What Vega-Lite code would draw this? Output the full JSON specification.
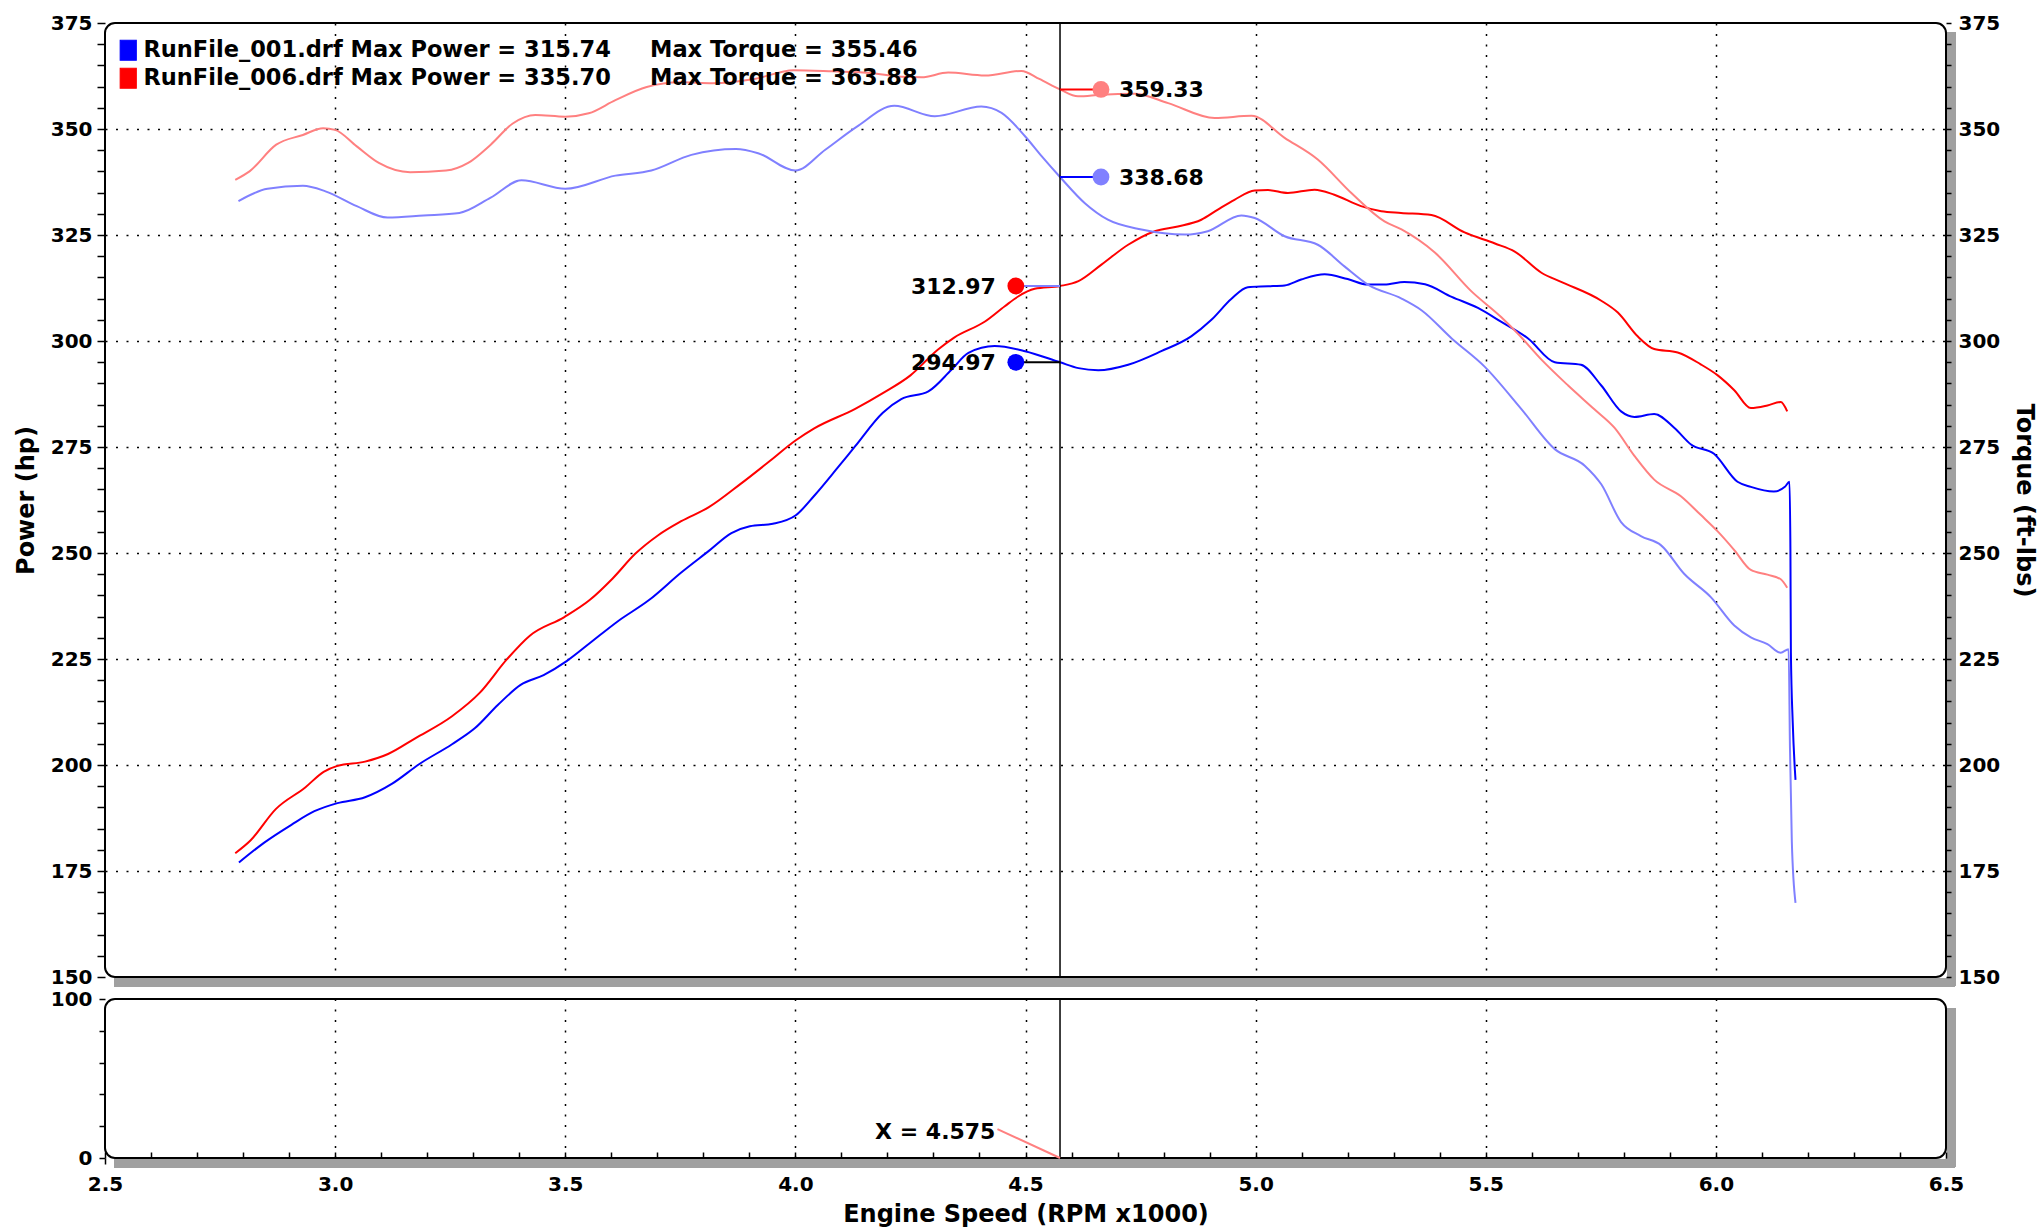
{
  "$schema": "https://vega.github.io/schema/vega-lite/v6.json",
  "background": "white",
  "padding": {"left": 13, "top": 12, "right": 2, "bottom": 2},
  "bounds": "flush",
  "spacing": 22,
  "config": {
    "font": "DejaVu Sans",
    "view": {"stroke": "black", "strokeWidth": 2, "cornerRadius": 10, "fill": "white"},
    "axis": {
      "labelFont": "DejaVu Sans", "labelFontWeight": "bold", "labelFontSize": 20, "labelColor": "black",
      "titleFont": "DejaVu Sans", "titleFontWeight": "bold", "titleFontSize": 24, "titleColor": "black",
      "tickColor": "black", "tickWidth": 1.5, "gridColor": "black", "gridDash": [2, 8.5], "gridWidth": 1.5,
      "labelOverlap": false, "labelFlush": false
    },
    "text": {"font": "DejaVu Sans"}
  },
  "datasets": {
    "curves": [
      {"series":"P006","rpm":2.783,"value":179.2},{"series":"P006","rpm":2.816,"value":182.2},{"series":"P006","rpm":2.871,"value":189.6},{"series":"P006","rpm":2.935,"value":194.7},{"series":"P006","rpm":2.975,"value":198.4},{"series":"P006","rpm":3.005,"value":199.8},{"series":"P006","rpm":3.065,"value":200.8},{"series":"P006","rpm":3.115,"value":202.6},{"series":"P006","rpm":3.174,"value":206.3},{"series":"P006","rpm":3.254,"value":211.5},{"series":"P006","rpm":3.314,"value":217.0},{"series":"P006","rpm":3.373,"value":224.9},{"series":"P006","rpm":3.423,"value":230.5},{"series":"P006","rpm":3.498,"value":234.9},{"series":"P006","rpm":3.553,"value":238.9},{"series":"P006","rpm":3.603,"value":244.0},{"series":"P006","rpm":3.652,"value":249.8},{"series":"P006","rpm":3.702,"value":254.2},{"series":"P006","rpm":3.752,"value":257.5},{"series":"P006","rpm":3.812,"value":260.8},{"series":"P006","rpm":3.881,"value":266.3},{"series":"P006","rpm":3.941,"value":271.4},{"series":"P006","rpm":4.001,"value":276.6},{"series":"P006","rpm":4.041,"value":279.4},{"series":"P006","rpm":4.130,"value":284.0},{"series":"P006","rpm":4.190,"value":287.7},{"series":"P006","rpm":4.250,"value":291.9},{"series":"P006","rpm":4.310,"value":298.0},{"series":"P006","rpm":4.345,"value":300.8},{"series":"P006","rpm":4.412,"value":304.6},{"series":"P006","rpm":4.455,"value":308.2},{"series":"P006","rpm":4.484,"value":310.5},{"series":"P006","rpm":4.520,"value":312.3},{"series":"P006","rpm":4.575,"value":312.97},{"series":"P006","rpm":4.615,"value":314.1},{"series":"P006","rpm":4.665,"value":318.0},{"series":"P006","rpm":4.723,"value":322.7},{"series":"P006","rpm":4.781,"value":325.9},{"series":"P006","rpm":4.831,"value":327.0},{"series":"P006","rpm":4.882,"value":328.6},{"series":"P006","rpm":4.918,"value":331.0},{"series":"P006","rpm":4.954,"value":333.3},{"series":"P006","rpm":4.998,"value":335.5},{"series":"P006","rpm":5.027,"value":335.6},{"series":"P006","rpm":5.070,"value":334.9},{"series":"P006","rpm":5.128,"value":335.70},{"series":"P006","rpm":5.171,"value":334.5},{"series":"P006","rpm":5.229,"value":331.8},{"series":"P006","rpm":5.273,"value":330.6},{"series":"P006","rpm":5.316,"value":330.2},{"series":"P006","rpm":5.382,"value":329.7},{"series":"P006","rpm":5.454,"value":325.6},{"series":"P006","rpm":5.520,"value":323.0},{"series":"P006","rpm":5.563,"value":321.1},{"series":"P006","rpm":5.621,"value":316.1},{"series":"P006","rpm":5.665,"value":313.9},{"series":"P006","rpm":5.751,"value":309.5},{"series":"P006","rpm":5.787,"value":306.7},{"series":"P006","rpm":5.830,"value":301.1},{"series":"P006","rpm":5.866,"value":298.1},{"series":"P006","rpm":5.917,"value":297.3},{"series":"P006","rpm":5.967,"value":294.5},{"series":"P006","rpm":6.004,"value":291.9},{"series":"P006","rpm":6.040,"value":288.4},{"series":"P006","rpm":6.076,"value":284.2},{"series":"P006","rpm":6.112,"value":284.8},{"series":"P006","rpm":6.141,"value":285.6},{"series":"P006","rpm":6.155,"value":283.4},
      {"series":"P001","rpm":2.791,"value":177.0},{"series":"P001","rpm":2.846,"value":181.7},{"series":"P001","rpm":2.905,"value":185.9},{"series":"P001","rpm":2.955,"value":189.1},{"series":"P001","rpm":3.005,"value":191.0},{"series":"P001","rpm":3.065,"value":192.4},{"series":"P001","rpm":3.124,"value":195.6},{"series":"P001","rpm":3.184,"value":200.3},{"series":"P001","rpm":3.254,"value":204.9},{"series":"P001","rpm":3.304,"value":208.7},{"series":"P001","rpm":3.354,"value":214.2},{"series":"P001","rpm":3.403,"value":218.9},{"series":"P001","rpm":3.453,"value":221.2},{"series":"P001","rpm":3.503,"value":224.5},{"series":"P001","rpm":3.553,"value":228.7},{"series":"P001","rpm":3.613,"value":233.8},{"series":"P001","rpm":3.682,"value":238.9},{"series":"P001","rpm":3.752,"value":245.4},{"series":"P001","rpm":3.812,"value":250.5},{"series":"P001","rpm":3.861,"value":254.7},{"series":"P001","rpm":3.901,"value":256.3},{"series":"P001","rpm":3.951,"value":256.9},{"series":"P001","rpm":4.001,"value":258.9},{"series":"P001","rpm":4.041,"value":263.5},{"series":"P001","rpm":4.091,"value":270.0},{"series":"P001","rpm":4.130,"value":275.2},{"series":"P001","rpm":4.190,"value":283.1},{"series":"P001","rpm":4.230,"value":286.3},{"series":"P001","rpm":4.289,"value":288.1},{"series":"P001","rpm":4.339,"value":293.2},{"series":"P001","rpm":4.376,"value":297.2},{"series":"P001","rpm":4.433,"value":298.8},{"series":"P001","rpm":4.499,"value":297.6},{"series":"P001","rpm":4.575,"value":294.97},{"series":"P001","rpm":4.615,"value":293.6},{"series":"P001","rpm":4.658,"value":293.1},{"series":"P001","rpm":4.723,"value":294.4},{"series":"P001","rpm":4.795,"value":297.6},{"series":"P001","rpm":4.860,"value":301.1},{"series":"P001","rpm":4.904,"value":305.0},{"series":"P001","rpm":4.947,"value":309.9},{"series":"P001","rpm":4.983,"value":312.7},{"series":"P001","rpm":5.027,"value":312.9},{"series":"P001","rpm":5.063,"value":313.1},{"series":"P001","rpm":5.099,"value":314.5},{"series":"P001","rpm":5.150,"value":315.74},{"series":"P001","rpm":5.200,"value":314.6},{"series":"P001","rpm":5.244,"value":313.3},{"series":"P001","rpm":5.280,"value":313.3},{"series":"P001","rpm":5.323,"value":313.9},{"series":"P001","rpm":5.368,"value":313.4},{"series":"P001","rpm":5.426,"value":310.4},{"series":"P001","rpm":5.483,"value":307.8},{"series":"P001","rpm":5.534,"value":304.5},{"series":"P001","rpm":5.592,"value":300.6},{"series":"P001","rpm":5.650,"value":295.0},{"series":"P001","rpm":5.707,"value":294.4},{"series":"P001","rpm":5.751,"value":289.5},{"series":"P001","rpm":5.794,"value":283.4},{"series":"P001","rpm":5.823,"value":282.1},{"series":"P001","rpm":5.866,"value":282.8},{"series":"P001","rpm":5.910,"value":279.5},{"series":"P001","rpm":5.946,"value":275.6},{"series":"P001","rpm":5.996,"value":273.4},{"series":"P001","rpm":6.047,"value":266.8},{"series":"P001","rpm":6.076,"value":265.6},{"series":"P001","rpm":6.126,"value":264.5},{"series":"P001","rpm":6.150,"value":265.6},{"series":"P001","rpm":6.160,"value":266.8},{"series":"P001","rpm":6.162,"value":250.0},{"series":"P001","rpm":6.163,"value":226.5},{"series":"P001","rpm":6.167,"value":210.0},{"series":"P001","rpm":6.173,"value":196.5},
      {"series":"T006","rpm":2.783,"value":338.0},{"series":"T006","rpm":2.814,"value":340.0},{"series":"T006","rpm":2.872,"value":346.3},{"series":"T006","rpm":2.930,"value":348.6},{"series":"T006","rpm":2.974,"value":350.2},{"series":"T006","rpm":3.000,"value":349.8},{"series":"T006","rpm":3.047,"value":345.9},{"series":"T006","rpm":3.095,"value":342.0},{"series":"T006","rpm":3.163,"value":339.8},{"series":"T006","rpm":3.241,"value":340.2},{"series":"T006","rpm":3.289,"value":342.0},{"series":"T006","rpm":3.338,"value":346.3},{"series":"T006","rpm":3.386,"value":351.3},{"series":"T006","rpm":3.435,"value":353.3},{"series":"T006","rpm":3.500,"value":352.9},{"series":"T006","rpm":3.551,"value":353.7},{"series":"T006","rpm":3.609,"value":356.8},{"series":"T006","rpm":3.677,"value":359.9},{"series":"T006","rpm":3.750,"value":361.0},{"series":"T006","rpm":3.820,"value":360.8},{"series":"T006","rpm":3.911,"value":361.8},{"series":"T006","rpm":3.996,"value":363.88},{"series":"T006","rpm":4.081,"value":363.6},{"series":"T006","rpm":4.165,"value":363.2},{"series":"T006","rpm":4.230,"value":362.3},{"series":"T006","rpm":4.274,"value":362.2},{"series":"T006","rpm":4.332,"value":363.3},{"series":"T006","rpm":4.412,"value":362.6},{"series":"T006","rpm":4.491,"value":363.7},{"series":"T006","rpm":4.530,"value":361.8},{"series":"T006","rpm":4.575,"value":359.33},{"series":"T006","rpm":4.614,"value":357.7},{"series":"T006","rpm":4.665,"value":358.1},{"series":"T006","rpm":4.737,"value":358.3},{"series":"T006","rpm":4.810,"value":356.1},{"series":"T006","rpm":4.911,"value":352.6},{"series":"T006","rpm":4.991,"value":353.1},{"series":"T006","rpm":5.063,"value":347.9},{"series":"T006","rpm":5.135,"value":342.8},{"series":"T006","rpm":5.208,"value":334.9},{"series":"T006","rpm":5.280,"value":328.2},{"series":"T006","rpm":5.317,"value":326.3},{"series":"T006","rpm":5.390,"value":320.8},{"series":"T006","rpm":5.469,"value":311.7},{"series":"T006","rpm":5.534,"value":305.6},{"series":"T006","rpm":5.570,"value":301.7},{"series":"T006","rpm":5.621,"value":295.6},{"series":"T006","rpm":5.679,"value":289.5},{"series":"T006","rpm":5.736,"value":283.9},{"series":"T006","rpm":5.780,"value":279.5},{"series":"T006","rpm":5.823,"value":272.9},{"series":"T006","rpm":5.866,"value":267.3},{"series":"T006","rpm":5.924,"value":263.4},{"series":"T006","rpm":5.967,"value":259.0},{"series":"T006","rpm":6.004,"value":255.1},{"series":"T006","rpm":6.040,"value":250.7},{"series":"T006","rpm":6.076,"value":246.0},{"series":"T006","rpm":6.112,"value":244.9},{"series":"T006","rpm":6.141,"value":243.8},{"series":"T006","rpm":6.155,"value":241.8},
      {"series":"T001","rpm":2.790,"value":333.0},{"series":"T001","rpm":2.853,"value":335.9},{"series":"T001","rpm":2.930,"value":336.6},{"series":"T001","rpm":2.979,"value":335.3},{"series":"T001","rpm":3.047,"value":331.8},{"series":"T001","rpm":3.114,"value":329.1},{"series":"T001","rpm":3.192,"value":329.6},{"series":"T001","rpm":3.270,"value":330.2},{"series":"T001","rpm":3.338,"value":333.8},{"series":"T001","rpm":3.405,"value":337.9},{"series":"T001","rpm":3.500,"value":335.9},{"series":"T001","rpm":3.609,"value":339.0},{"series":"T001","rpm":3.687,"value":340.2},{"series":"T001","rpm":3.774,"value":343.9},{"series":"T001","rpm":3.871,"value":345.3},{"series":"T001","rpm":3.919,"value":344.3},{"series":"T001","rpm":4.000,"value":340.2},{"series":"T001","rpm":4.065,"value":345.1},{"series":"T001","rpm":4.133,"value":350.5},{"series":"T001","rpm":4.215,"value":355.46},{"series":"T001","rpm":4.303,"value":353.0},{"series":"T001","rpm":4.404,"value":355.3},{"series":"T001","rpm":4.448,"value":353.8},{"series":"T001","rpm":4.499,"value":348.3},{"series":"T001","rpm":4.535,"value":343.6},{"series":"T001","rpm":4.575,"value":338.68},{"series":"T001","rpm":4.629,"value":332.5},{"series":"T001","rpm":4.679,"value":328.6},{"series":"T001","rpm":4.752,"value":326.3},{"series":"T001","rpm":4.846,"value":325.1},{"series":"T001","rpm":4.896,"value":325.9},{"series":"T001","rpm":4.969,"value":329.6},{"series":"T001","rpm":4.998,"value":329.0},{"series":"T001","rpm":5.063,"value":324.7},{"series":"T001","rpm":5.135,"value":322.7},{"series":"T001","rpm":5.193,"value":317.6},{"series":"T001","rpm":5.244,"value":313.3},{"series":"T001","rpm":5.317,"value":310.0},{"series":"T001","rpm":5.361,"value":307.2},{"series":"T001","rpm":5.426,"value":300.6},{"series":"T001","rpm":5.498,"value":293.9},{"series":"T001","rpm":5.577,"value":284.0},{"series":"T001","rpm":5.650,"value":274.5},{"series":"T001","rpm":5.715,"value":270.6},{"series":"T001","rpm":5.751,"value":266.2},{"series":"T001","rpm":5.794,"value":257.3},{"series":"T001","rpm":5.837,"value":254.0},{"series":"T001","rpm":5.881,"value":251.8},{"series":"T001","rpm":5.931,"value":245.1},{"series":"T001","rpm":5.989,"value":239.6},{"series":"T001","rpm":6.040,"value":232.9},{"series":"T001","rpm":6.076,"value":230.1},{"series":"T001","rpm":6.112,"value":228.5},{"series":"T001","rpm":6.141,"value":226.5},{"series":"T001","rpm":6.158,"value":227.3},{"series":"T001","rpm":6.161,"value":204.0},{"series":"T001","rpm":6.165,"value":182.0},{"series":"T001","rpm":6.173,"value":167.5}
    ],
    "readouts": [
      {"series":"T006","rpm":4.664,"cursor":4.575,"value":359.33,"label":"359.33"},
      {"series":"T001","rpm":4.664,"cursor":4.575,"value":338.68,"label":"338.68"},
      {"series":"P006","rpm":4.479,"cursor":4.575,"value":312.97,"label":"312.97"},
      {"series":"P001","rpm":4.479,"cursor":4.575,"value":294.97,"label":"294.97"}
    ],
    "cursor": [{"rpm": 4.575}],
    "marker": [{"rpm": 4.439, "pct": 18.2, "rpm2": 4.575, "pct2": 0, "label": "X = 4.575"}]
  },
  "vconcat": [
    {
      "width": 1841,
      "height": 954,
      "layer": [
        {
          "data": {"name": "curves"},
          "transform": [{"filter": "datum.series === 'P001' || datum.series === 'P006'"}],
          "mark": {"type": "line", "interpolate": "monotone", "strokeWidth": 2},
          "encoding": {
            "x": {"field": "rpm", "type": "quantitative",
              "scale": {"domain": [2.5, 6.5], "nice": false, "zero": false},
              "axis": {"values": [2.5,2.6,2.7,2.8,2.9,3.0,3.1,3.2,3.3,3.4,3.5,3.6,3.7,3.8,3.9,4.0,4.1,4.2,4.3,4.4,4.5,4.6,4.7,4.8,4.9,5.0,5.1,5.2,5.3,5.4,5.5,5.6,5.7,5.8,5.9,6.0,6.1,6.2,6.3,6.4,6.5],
                "grid": true,
                "gridOpacity": {"condition": {"test": "abs(datum.value*2 - round(datum.value*2)) < 0.01 && datum.value > 2.6 && datum.value < 6.4", "value": 1}, "value": 0},
                "ticks": false, "labels": false, "domain": false, "title": null, "zindex": 0}},
            "y": {"field": "value", "type": "quantitative",
              "scale": {"domain": [150, 375], "nice": false, "zero": false},
              "axis": {"orient": "left",
                "values": [150,155,160,165,170,175,180,185,190,195,200,205,210,215,220,225,230,235,240,245,250,255,260,265,270,275,280,285,290,295,300,305,310,315,320,325,330,335,340,345,350,355,360,365,370,375],
                "labelExpr": "datum.value % 25 === 0 ? datum.label : ''",
                "grid": true,
                "gridOpacity": {"condition": {"test": "datum.value % 25 === 0 && datum.value > 150 && datum.value < 375", "value": 1}, "value": 0},
                "tickSize": 8, "labelPadding": 5, "domain": false,
                "title": "Power (hp)", "titlePadding": 12, "zindex": 0}},
            "color": {"field": "series", "type": "nominal",
              "scale": {"domain": ["P001", "P006", "T001", "T006"], "range": ["#0000ff", "#ff0000", "#8080ff", "#ff8080"]},
              "legend": {
                "title": null,
                "orient": "none",
                "legendX": 12,
                "legendY": 16,
                "padding": 0,
                "values": ["P001", "P006"],
                "labelExpr": "datum.value === 'P001' ? 'RunFile_001.drf Max Power = 315.74\u00a0\u00a0\u00a0\u00a0\u00a0Max Torque = 355.46' : 'RunFile_006.drf Max Power = 335.70\u00a0\u00a0\u00a0\u00a0\u00a0Max Torque = 363.88'",
                "labelFont": "DejaVu Sans", "labelFontWeight": "bold", "labelFontSize": 22.5, "labelColor": "black",
                "labelLimit": 1500, "labelOffset": 4, "rowPadding": 2,
                "symbolType": "M-0.8,-1H0.8V1H-0.8Z", "symbolSize": 400,
                "symbolStrokeWidth": 1.2, "symbolOpacity": 1,
                "encode": {"symbols": {"update": {
                  "shape": {"value": "M-0.8,-1H0.8V1H-0.8Z"},
                  "size": {"value": 400},
                  "strokeWidth": {"value": 1.2},
                  "stroke": {"value": "black"}
                }}}
              }}
          }
        },
        {
          "data": {"name": "curves"},
          "transform": [{"filter": "datum.series === 'T001' || datum.series === 'T006'"}],
          "mark": {"type": "line", "interpolate": "monotone", "strokeWidth": 2},
          "encoding": {
            "x": {"field": "rpm", "type": "quantitative",
              "axis": {"orient": "bottom", "translate": 9, "offset": -3.5, "domainColor": "#a0a0a0", "domainWidth": 9, "ticks": false, "labels": false, "grid": false, "title": null, "zindex": 0}},
            "y": {"field": "value", "type": "quantitative",
              "axis": {"orient": "right",
                "values": [150,155,160,165,170,175,180,185,190,195,200,205,210,215,220,225,230,235,240,245,250,255,260,265,270,275,280,285,290,295,300,305,310,315,320,325,330,335,340,345,350,355,360,365,370,375],
                "labelExpr": "datum.value % 25 === 0 ? datum.label : ''",
                "grid": false, "tickSize": 5, "labelPadding": 7, "domain": false,
                "title": "Torque (ft-lbs)", "titlePadding": 12, "zindex": 1}},
            "color": {"field": "series", "type": "nominal"}
          }
        },
        {
          "data": {"name": "cursor"},
          "mark": {"type": "rule", "color": "black", "strokeWidth": 1.5},
          "encoding": {"x": {"field": "rpm", "type": "quantitative", "axis": null}}
        },
        {
          "data": {"name": "readouts"},
          "mark": {"type": "rule", "strokeWidth": 2},
          "encoding": {
            "x": {"field": "rpm", "type": "quantitative", "axis": null},
            "x2": {"field": "cursor"},
            "y": {"field": "value", "type": "quantitative",
              "axis": {"orient": "right", "translate": 9, "offset": -3.5, "domainColor": "#a0a0a0", "domainWidth": 9, "ticks": false, "labels": false, "grid": false, "title": null, "zindex": 0}},
            "stroke": {"field": "series", "type": "nominal",
              "scale": {"domain": ["P001", "P006", "T001", "T006"], "range": ["#000000", "#8080ff", "#0000ff", "#ff0000"]},
              "legend": null}
          }
        },
        {
          "data": {"name": "readouts"},
          "mark": {"type": "circle", "size": 284, "opacity": 1},
          "encoding": {
            "x": {"field": "rpm", "type": "quantitative", "axis": null},
            "y": {"field": "value", "type": "quantitative", "axis": null},
            "fill": {"field": "series", "type": "nominal",
              "scale": {"domain": ["P001", "P006", "T001", "T006"], "range": ["#0000ff", "#ff0000", "#8080ff", "#ff8080"]},
              "legend": null}
          }
        },
        {
          "data": {"name": "readouts"},
          "transform": [{"filter": "datum.series === 'T001' || datum.series === 'T006'"}],
          "mark": {"type": "text", "align": "left", "baseline": "middle", "dx": 18, "dy": 1, "fontSize": 22, "fontWeight": "bold", "color": "black"},
          "encoding": {
            "x": {"field": "rpm", "type": "quantitative", "axis": null},
            "y": {"field": "value", "type": "quantitative", "axis": null},
            "text": {"field": "label"}
          }
        },
        {
          "data": {"name": "readouts"},
          "transform": [{"filter": "datum.series === 'P001' || datum.series === 'P006'"}],
          "mark": {"type": "text", "align": "right", "baseline": "middle", "dx": -20, "dy": 1, "fontSize": 22, "fontWeight": "bold", "color": "black"},
          "encoding": {
            "x": {"field": "rpm", "type": "quantitative", "axis": null},
            "y": {"field": "value", "type": "quantitative", "axis": null},
            "text": {"field": "label"}
          }
        }
      ],
      "resolve": {"axis": {"x": "independent", "y": "independent"}}
    },
    {
      "width": 1841,
      "height": 159,
      "layer": [
        {
          "data": {"name": "cursor"},
          "mark": {"type": "rule", "color": "black", "strokeWidth": 1.5},
          "encoding": {
            "x": {"field": "rpm", "type": "quantitative",
              "scale": {"domain": [2.5, 6.5], "nice": false, "zero": false},
              "axis": {"values": [2.5,2.6,2.7,2.8,2.9,3.0,3.1,3.2,3.3,3.4,3.5,3.6,3.7,3.8,3.9,4.0,4.1,4.2,4.3,4.4,4.5,4.6,4.7,4.8,4.9,5.0,5.1,5.2,5.3,5.4,5.5,5.6,5.7,5.8,5.9,6.0,6.1,6.2,6.3,6.4,6.5],
                "labelExpr": "abs(datum.value*2 - round(datum.value*2)) < 0.01 ? format(datum.value, '.1f') : ''",
                "grid": true,
                "gridOpacity": {"condition": {"test": "abs(datum.value*2 - round(datum.value*2)) < 0.01 && datum.value > 2.6 && datum.value < 6.4", "value": 1}, "value": 0},
                "tickSize": 6, "labelPadding": 10, "domain": false,
                "title": "Engine Speed (RPM x1000)", "titlePadding": 8, "zindex": 0}}
          }
        },
        {
          "data": {"name": "marker"},
          "mark": {"type": "rule", "color": "#ff8080", "strokeWidth": 2},
          "encoding": {
            "x": {"field": "rpm", "type": "quantitative",
              "axis": {"orient": "bottom", "translate": 9, "offset": -3.5, "domainColor": "#a0a0a0", "domainWidth": 9, "ticks": false, "labels": false, "grid": false, "title": null, "zindex": 0}},
            "x2": {"field": "rpm2"},
            "y": {"field": "pct", "type": "quantitative",
              "scale": {"domain": [0, 100], "nice": false},
              "axis": {"orient": "left", "values": [0, 20, 40, 60, 80, 100],
                "labelExpr": "datum.value === 0 || datum.value === 100 ? datum.label : ''",
                "grid": false, "tickSize": 6, "labelPadding": 7, "domain": false, "title": null, "zindex": 0}},
            "y2": {"field": "pct2"}
          }
        },
        {
          "data": {"name": "marker"},
          "mark": {"type": "text", "align": "right", "baseline": "middle", "dx": -2, "dy": 3, "fontSize": 22, "fontWeight": "bold", "color": "black"},
          "encoding": {
            "x": {"field": "rpm", "type": "quantitative",
              "axis": {"orient": "bottom", "values": [2.5,2.6,2.7,2.8,2.9,3.0,3.1,3.2,3.3,3.4,3.5,3.6,3.7,3.8,3.9,4.0,4.1,4.2,4.3,4.4,4.5,4.6,4.7,4.8,4.9,5.0,5.1,5.2,5.3,5.4,5.5,5.6,5.7,5.8,5.9,6.0,6.1,6.2,6.3,6.4,6.5],
                "tickSize": -6, "labels": false, "grid": false, "domain": false, "title": null, "zindex": 1}},
            "y": {"field": "pct", "type": "quantitative",
              "axis": {"orient": "right", "translate": 9, "offset": -3.5, "domainColor": "#a0a0a0", "domainWidth": 9, "ticks": false, "labels": false, "grid": false, "title": null, "zindex": 0}},
            "text": {"field": "label"}
          }
        }
      ],
      "resolve": {"axis": {"x": "independent", "y": "independent"}}
    }
  ]
}
